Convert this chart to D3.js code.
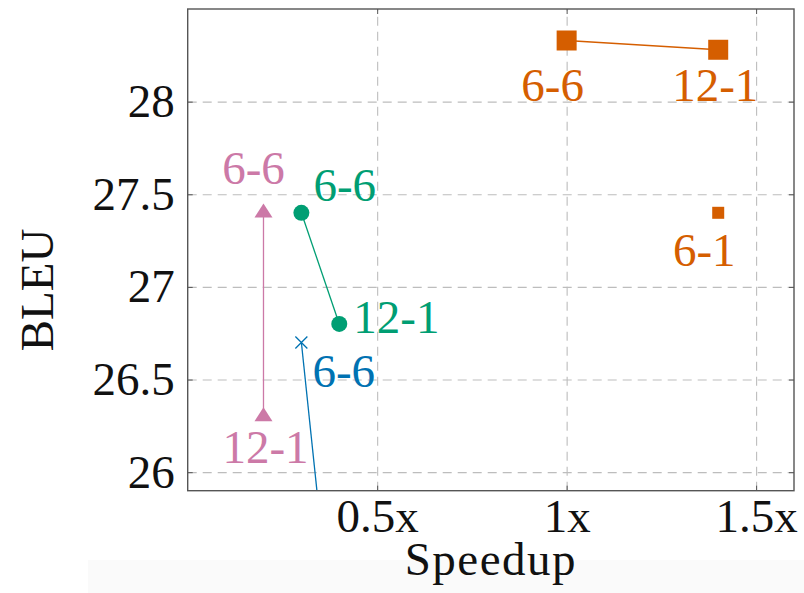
<!DOCTYPE html>
<html>
<head>
<meta charset="utf-8">
<script src="https://cdn.jsdelivr.net/npm/d3@7"></script>
<style>
  body { margin: 0; background: #fff; }
  svg { display: block; }
  text { font-family: "Liberation Serif", "DejaVu Serif", serif; }
</style>
</head>
<body>
<svg id="chart" width="804" height="593"></svg>
<script>
// data
const xTicks = [0.5, 1, 1.5];
const xTickLabels = ['0.5x', '1x', '1.5x'];
const yTicks = [26, 26.5, 27, 27.5, 28];
const yTickLabels = ['26', '26.5', '27', '27.5', '28'];

const orangeSpeed = [1.0, 1.4];
const orangeBleu = [28.33, 28.28];
const orangeLabels = ['6-6', '12-1'];

const orangeSingleSpeed = [1.4];
const orangeSingleBleu = [27.4];
const orangeSingleLabels = ['6-1'];

const greenSpeed = [0.3, 0.4];
const greenBleu = [27.4, 26.8];
const greenLabels = ['6-6', '12-1'];

const pinkSpeed = [0.2, 0.2];
const pinkBleu = [27.4, 26.3];
const pinkLabels = ['6-6', '12-1'];

const blueSpeed = [0.3, 0.4];
const blueBleu = [26.7, 24.75];
const blueLabels = ['6-6', '12-1'];

function renderChart() {
  const svg = d3.select('#chart');
  const left = 187.7, right = 794, top = 9, bottom = 490.7;
  const fs = 47;

  // faint band at the bottom of the scan
  svg.append('rect').attr('x', 88).attr('y', 560).attr('width', 716).attr('height', 33).attr('fill', '#fafafa');

  const x = d3.scaleLinear().domain([0, 1.6]).range([left, right]);
  const y = d3.scaleLinear().domain([25.9, 28.5]).range([bottom, top]);

  // Grid lines
  const grid = svg.append('g').attr('class', 'grid');
  grid.append('g')
    .attr('transform', `translate(${left},0)`)
    .call(d3.axisLeft(y).tickValues(yTicks).tickSize(-(right - left)).tickFormat(''));
  grid.append('g')
    .attr('transform', `translate(0,${bottom})`)
    .call(d3.axisBottom(x).tickValues(xTicks).tickSize(-(bottom - top)).tickFormat(''));
  grid.selectAll('.domain').remove();
  grid.selectAll('line').attr('stroke', '#bdbdbd').attr('stroke-width', 1.1).attr('stroke-dasharray', '9,6');

  // inner tick marks on all four sides
  const ticks = svg.append('g');
  ticks.append('g').attr('transform', `translate(${left},0)`)
    .call(d3.axisLeft(y).tickValues(yTicks).tickSize(-5).tickFormat(''));
  ticks.append('g').attr('transform', `translate(${right},0)`)
    .call(d3.axisRight(y).tickValues(yTicks).tickSize(-5).tickFormat(''));
  ticks.append('g').attr('transform', `translate(0,${bottom})`)
    .call(d3.axisBottom(x).tickValues(xTicks).tickSize(-5).tickFormat(''));
  ticks.append('g').attr('transform', `translate(0,${top})`)
    .call(d3.axisTop(x).tickValues(xTicks).tickSize(-5).tickFormat(''));
  ticks.selectAll('.domain').remove();
  ticks.selectAll('line').attr('stroke', '#555').attr('stroke-width', 1);

  // Tick labels
  const yAxis = svg.append('g')
    .attr('transform', `translate(${left},0)`)
    .call(d3.axisLeft(y).tickValues(yTicks).tickSize(0).tickPadding(13)
      .tickFormat((d, i) => yTickLabels[i]));
  const xAxis = svg.append('g')
    .attr('transform', `translate(0,${bottom})`)
    .call(d3.axisBottom(x).tickValues(xTicks).tickSize(0).tickPadding(8)
      .tickFormat((d, i) => xTickLabels[i]));
  [xAxis, yAxis].forEach(a => {
    a.select('.domain').remove();
    a.selectAll('text').attr('font-size', fs + 'px').attr('fill', '#111')
      .style('font-family', '"Liberation Serif", serif');
  });

  // plot clip
  svg.append('clipPath').attr('id', 'plot-clip')
    .append('rect').attr('x', left).attr('y', top).attr('width', right - left).attr('height', bottom - top);
  const plot = svg.append('g').attr('clip-path', 'url(#plot-clip)');

  const line = d3.line().x(d => x(d[0])).y(d => y(d[1]));
  const pts = (xs, ys, ls) => xs.map((v, i) => [v, ys[i], ls[i]]);

  const colors = {orange: '#d55e00', green: '#009e73', pink: '#cc79a7', blue: '#0072b2'};

  const series = [
    {key: 'orange', data: pts(orangeSpeed, orangeBleu, orangeLabels), marker: 'square', size: 20},
    {key: 'orange', data: pts(orangeSingleSpeed, orangeSingleBleu, orangeSingleLabels), marker: 'square', size: 12},
    {key: 'green', data: pts(greenSpeed, greenBleu, greenLabels), marker: 'circle', size: 8},
    {key: 'pink', data: pts(pinkSpeed, pinkBleu, pinkLabels), marker: 'triangle', size: 18},
    {key: 'blue', data: pts(blueSpeed, blueBleu, blueLabels), marker: 'cross', size: 6}
  ];

  // label placement, px offsets from the marker: [dx, dy, anchor]
  const labelPlacement = {
    orange: [[-14, 61, 'middle'], [-3, 51, 'middle']],
    orangeSingle: [[-14, 53, 'middle']],
    green: [[12, -12, 'start'], [14, 9, 'start']],
    pink: [[-10, -29, 'middle'], [2, 46, 'middle']],
    blue: [[11, 45, 'start'], [11, 45, 'start']]
  };
  const placeKeys = ['orange', 'orangeSingle', 'green', 'pink', 'blue'];

  series.forEach((s, si) => {
    const c = colors[s.key];
    if (s.data.length > 1) {
      plot.append('path').datum(s.data)
        .attr('fill', 'none').attr('stroke', c).attr('stroke-width', 1.3)
        .attr('d', line);
    }
    const g = plot.append('g');
    s.data.forEach(d => {
      const cx = x(d[0]), cy = y(d[1]);
      if (s.marker === 'square') {
        g.append('rect').attr('x', cx - s.size / 2).attr('y', cy - s.size / 2)
          .attr('width', s.size).attr('height', s.size).attr('fill', c);
      } else if (s.marker === 'circle') {
        g.append('circle').attr('cx', cx).attr('cy', cy).attr('r', s.size).attr('fill', c);
      } else if (s.marker === 'triangle') {
        const h = 14, w = s.size;
        g.append('path')
          .attr('d', `M${cx},${cy - h * 2 / 3}L${cx + w / 2},${cy + h / 3}L${cx - w / 2},${cy + h / 3}Z`)
          .attr('fill', c);
      } else if (s.marker === 'cross') {
        const r = s.size;
        g.append('path')
          .attr('d', `M${cx - r},${cy - r}L${cx + r},${cy + r}M${cx - r},${cy + r}L${cx + r},${cy - r}`)
          .attr('stroke', c).attr('stroke-width', 1.3).attr('fill', 'none');
      }
    });
    const place = labelPlacement[placeKeys[si]];
    plot.selectAll(null).data(s.data).enter().append('text')
      .attr('x', (d, i) => x(d[0]) + place[i][0])
      .attr('y', (d, i) => y(d[1]) + place[i][1])
      .attr('text-anchor', (d, i) => place[i][2])
      .attr('font-size', fs + 'px')
      .attr('fill', c)
      .text(d => d[2]);
  });

  // frame
  svg.append('rect').attr('x', left).attr('y', top).attr('width', right - left).attr('height', bottom - top)
    .attr('fill', 'none').attr('stroke', '#555').attr('stroke-width', 1.4);

  // Axis titles
  svg.append('text').attr('x', (left + right) / 2).attr('y', 575)
    .attr('text-anchor', 'middle').attr('font-size', fs + 'px').attr('fill', '#111')
    .attr('letter-spacing', '1.5px')
    .text('Speedup');
  svg.append('text').attr('transform', 'translate(53,290) rotate(-90)')
    .attr('text-anchor', 'middle').attr('font-size', fs + 'px').attr('fill', '#111')
    .text('BLEU');
}

renderChart();
</script>
</body>
</html>
